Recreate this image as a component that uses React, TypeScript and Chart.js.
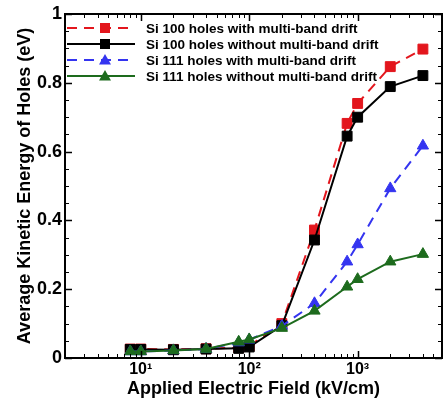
import React, { useEffect, useRef } from 'react';
import { Chart, registerables } from 'chart.js';

Chart.register(...registerables);

const fieldKVcm = [8, 10, 20, 40, 80, 100, 200, 400, 800, 1000, 2000, 4000];
const si100With = [0.026, 0.026, 0.025, 0.027, 0.03, 0.035, 0.1, 0.372, 0.682, 0.74, 0.847, 0.898];
const si100Without = [0.025, 0.025, 0.024, 0.026, 0.028, 0.032, 0.094, 0.343, 0.645, 0.7, 0.789, 0.821];
const si111With = [0.019, 0.019, 0.022, 0.026, 0.045, 0.053, 0.093, 0.159, 0.28, 0.33, 0.493, 0.617];
const si111Without = [0.019, 0.019, 0.022, 0.026, 0.047, 0.054, 0.087, 0.137, 0.207, 0.229, 0.28, 0.302];

const seriesLabels = [
  'Si 100 holes with multi-band drift',
  'Si 100 holes without multi-band drift',
  'Si 111 holes with multi-band drift',
  'Si 111 holes without multi-band drift',
];
const seriesColors = ['#e3161d', '#000000', '#3434f0', '#1d6b1d'];
const seriesDashed = [true, false, true, false];
const seriesMarkers = ['rect', 'rect', 'triangle', 'triangle'];

const xMin = 2;
const xMax = 6000;
const xMajorTicks = [10, 100, 1000];
const xTickLabels = ['10\u00B9', '10\u00B2', '10\u00B3'];
const yTicks = [0, 0.2, 0.4, 0.6, 0.8, 1];
const yTickLabels = ['0', '0.2', '0.4', '0.6', '0.8', '1'];

const FONT = '"Liberation Sans", Arial, sans-serif';

const framePlugin = {
  id: 'frame',
  afterDraw(chart: any) {
    const { ctx, chartArea } = chart;
    const { left, right, top, bottom } = chartArea;
    const xs = chart.scales.x;
    const ys = chart.scales.y;
    ctx.save();
    ctx.strokeStyle = '#000';
    ctx.lineWidth = 1;
    const majLen = 7;
    const minLen = 4;
    const xMinor: number[] = [];
    for (let d = 1; d <= 1000; d *= 10) {
      for (let m = 2; m <= 9; m++) {
        const v = m * d;
        if (v >= xMin && v <= xMax) xMinor.push(v);
      }
    }
    ctx.beginPath();
    xMinor.forEach((v) => {
      const px = Math.round(xs.getPixelForValue(v)) + 0.5;
      ctx.moveTo(px, bottom);
      ctx.lineTo(px, bottom - minLen);
      ctx.moveTo(px, top);
      ctx.lineTo(px, top + minLen);
    });
    for (let k = 1; k < 20; k++) {
      const v = k * 0.05;
      const py = Math.round(ys.getPixelForValue(v)) + 0.5;
      ctx.moveTo(left, py);
      ctx.lineTo(left + minLen, py);
      ctx.moveTo(right, py);
      ctx.lineTo(right - minLen, py);
    }
    ctx.stroke();
    ctx.lineWidth = 1.5;
    ctx.beginPath();
    xMajorTicks.forEach((v) => {
      const px = Math.round(xs.getPixelForValue(v)) + 0.5;
      ctx.moveTo(px, bottom);
      ctx.lineTo(px, bottom - majLen);
      ctx.moveTo(px, top);
      ctx.lineTo(px, top + majLen);
    });
    yTicks.forEach((v) => {
      const py = Math.round(ys.getPixelForValue(v)) + 0.5;
      ctx.moveTo(left, py);
      ctx.lineTo(left + majLen, py);
      ctx.moveTo(right, py);
      ctx.lineTo(right - majLen, py);
    });
    ctx.stroke();
    ctx.lineWidth = 2;
    ctx.strokeRect(left, top, right - left, bottom - top);

    // legend
    const rowY = [28, 44, 60, 76];
    const lineX0 = 67;
    const lineX1 = 135;
    const markX = 105;
    const textX = 146;
    ctx.font = `bold 13.5px ${FONT}`;
    ctx.textBaseline = 'middle';
    ctx.textAlign = 'left';
    seriesLabels.forEach((lab, i) => {
      const y = rowY[i];
      ctx.strokeStyle = seriesColors[i];
      ctx.lineWidth = 2;
      ctx.setLineDash(seriesDashed[i] ? [10, 7] : []);
      ctx.beginPath();
      ctx.moveTo(lineX0, y);
      ctx.lineTo(lineX1, y);
      ctx.stroke();
      ctx.setLineDash([]);
      ctx.fillStyle = seriesColors[i];
      if (seriesMarkers[i] === 'rect') {
        ctx.fillRect(markX - 5, y - 5, 10, 10);
      } else {
        ctx.beginPath();
        ctx.moveTo(markX, y - 6);
        ctx.lineTo(markX + 6, y + 4.5);
        ctx.lineTo(markX - 6, y + 4.5);
        ctx.closePath();
        ctx.fill();
      }
      ctx.fillStyle = '#000';
      ctx.fillText(lab, textX, y + 1);
    });
    ctx.restore();
  },
};

export default function App() {
  const ref = useRef<HTMLCanvasElement | null>(null);
  useEffect(() => {
    if (!ref.current) return;
    const allSeries = [si100With, si100Without, si111With, si111Without];
    const orders = [4, 3, 2, 1];
    const chart = new Chart(ref.current, {
      type: 'line',
      data: {
        datasets: allSeries.map((vals, i) => ({
          label: seriesLabels[i],
          data: fieldKVcm.map((x, j) => ({ x, y: vals[j] })),
          borderColor: seriesColors[i],
          backgroundColor: seriesColors[i],
          borderWidth: 2,
          borderDash: seriesDashed[i] ? [10, 7] : [],
          pointStyle: seriesMarkers[i] as any,
          pointRadius: seriesMarkers[i] === 'rect' ? 7 : 6.5,
          pointBorderWidth: 1,
          pointBorderColor: seriesColors[i],
          pointBackgroundColor: seriesColors[i],
          tension: 0,
          order: orders[i],
          clip: false as any,
        })),
      },
      options: {
        responsive: false,
        animation: false,
        layout: { autoPadding: false, padding: { top: 14, right: 3, left: 0, bottom: 0 } },
        plugins: {
          legend: { display: false },
          tooltip: { enabled: false },
        },
        scales: {
          x: {
            type: 'logarithmic',
            min: xMin,
            max: xMax,
            afterBuildTicks: (scale: any) => {
              scale.ticks = xMajorTicks.map((v) => ({ value: v }));
            },
            afterFit: (scale: any) => {
              scale.height = 43;
            },
            grid: { display: false, drawTicks: false },
            border: { display: false },
            ticks: {
              autoSkip: false,
              maxRotation: 0,
              padding: 2,
              color: '#000',
              font: { family: FONT, size: 16, weight: 'bold' },
              callback: (v: any) => {
                const i = xMajorTicks.indexOf(Number(v));
                return i >= 0 ? xTickLabels[i] : '';
              },
            },
            title: {
              display: true,
              text: 'Applied Electric Field (kV/cm)',
              color: '#000',
              font: { family: FONT, size: 18, weight: 'bold' },
              padding: { top: 0, bottom: 1 },
            },
          },
          y: {
            type: 'linear',
            min: 0,
            max: 1,
            afterBuildTicks: (scale: any) => {
              scale.ticks = yTicks.map((v) => ({ value: v }));
            },
            afterFit: (scale: any) => {
              scale.width = 65;
            },
            grid: { display: false, drawTicks: false },
            border: { display: false },
            ticks: {
              padding: 3,
              color: '#000',
              font: { family: FONT, size: 18, weight: 'bold' },
              callback: (v: any) => {
                const i = yTicks.indexOf(Number(v));
                return i >= 0 ? yTickLabels[i] : '';
              },
            },
            title: {
              display: true,
              text: 'Average Kinetic Energy of Holes (eV)',
              color: '#000',
              font: { family: FONT, size: 18, weight: 'bold' },
              padding: { top: 14, bottom: 0 },
            },
          },
        },
      },
      plugins: [framePlugin],
    });
    return () => chart.destroy();
  }, []);
  return (
    <div style={{ position: 'fixed', left: 0, top: 0, width: 445, height: 401, background: '#fff' }}>
      <canvas ref={ref} width={445} height={401} style={{ display: 'block', width: 445, height: 401 }} />
    </div>
  );
}
